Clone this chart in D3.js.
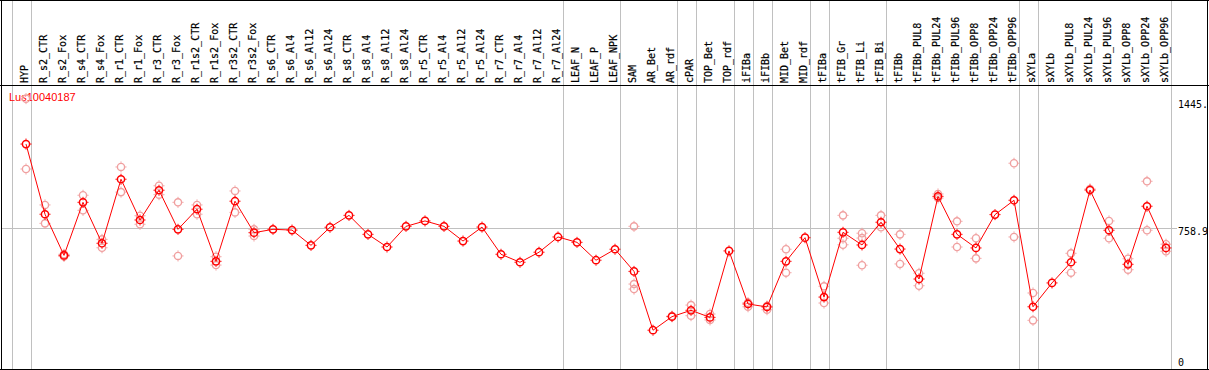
<!DOCTYPE html>
<html>
<head>
<meta charset="utf-8">
<script src="https://cdn.jsdelivr.net/npm/d3@7"></script>
<style>
  html, body { margin: 0; padding: 0; background: #fff; }
  svg { display: block; }
</style>
</head>
<body>
<script>
const title = "Lus10040187";
const categories = ["HYP","R_s2_CTR","R_s2_Fox","R_s4_CTR","R_s4_Fox","R_r1_CTR","R_r1_Fox","R_r3_CTR","R_r3_Fox","R_r1s2_CTR","R_r1s2_Fox","R_r3s2_CTR","R_r3s2_Fox","R_s6_CTR","R_s6_Al4","R_s6_Al12","R_s6_Al24","R_s8_CTR","R_s8_Al4","R_s8_Al12","R_s8_Al24","R_r5_CTR","R_r5_Al4","R_r5_Al12","R_r5_Al24","R_r7_CTR","R_r7_Al4","R_r7_Al12","R_r7_Al24","LEAF_N","LEAF_P","LEAF_NPK","SAM","AR_Bet","AR_rdf","cPAR","TOP_Bet","TOP_rdf","iFIBa","iFIBb","MID_Bet","MID_rdf","tFIBa","tFIB_Gr","tFIB_Li","tFIB_Bi","tFIBb","tFIBb_PUL8","tFIBb_PUL24","tFIBb_PUL96","tFIBb_OPP8","tFIBb_OPP24","tFIBb_OPP96","sXYLa","sXYLb","sXYLb_PUL8","sXYLb_PUL24","sXYLb_PUL96","sXYLb_OPP8","sXYLb_OPP24","sXYLb_OPP96"];
const means = [1211,834,613,898,678,1022,803,963,753,861,581,904,735,753,749,667,764,828,726,658,769,798,769,690,765,619,576,630,712,683,587,646,527,211,284,318,280,637,352,336,581,708,389,737,669,791,647,486,930,726,653,832,909,337,465,576,964,748,565,877,653];
const rep1 = [1077,884,619,936,654,1088,826,987,898,884,606,959,753,null,null,null,null,null,null,null,null,null,null,null,null,null,null,null,null,null,null,null,769,null,287,346,298,null,359,321,646,null,447,828,732,828,726,517,943,796,705,null,1108,411,null,624,970,798,595,1011,673];
const rep2 = [1455,785,607,855,699,953,780,939,610,834,561,844,717,null,null,null,null,null,null,null,null,null,null,null,null,null,null,null,null,null,null,null,459,null,null,289,266,null,337,341,520,null,357,670,560,764,567,450,921,658,597,null,712,264,null,520,null,705,536,748,635];
const rep3 = [null,null,null,null,null,null,null,null,null,null,null,null,null,null,null,null,null,null,null,null,null,null,null,null,null,null,null,null,null,null,null,null,432,null,null,null,null,null,null,null,null,null,null,705,706,null,null,null,null,null,null,null,null,null,null,null,null,null,null,null,null];
// categories that begin a new group (a separator line is drawn before each)
const groupStarts = ["HYP","R_s2_CTR","LEAF_N","SAM","cPAR","TOP_Bet","iFIBa","iFIBb","MID_Bet","tFIBa","tFIB_Gr","tFIBb","sXYLa","sXYLb"];
const yTicks = [0, 758.9, 1445];
const yTickLabels = ["0", "758.9", "1445."];
const yMax = 1445;

const W = 1209, H = 370;
const svg = d3.select("body").append("svg").attr("width", W).attr("height", H);

const x = d3.scalePoint().domain(categories).range([26, 26 + 19 * (categories.length - 1)]);
const y = d3.scaleLinear().domain([0, yMax]).range([369.5, 100.5]);

const grey = "#c0c0c0";
const mono = "'DejaVu Sans Mono', monospace";

// horizontal grid at middle tick
svg.append("line")
  .attr("x1", 2).attr("x2", 1177)
  .attr("y1", Math.round(y(yTicks[1])) + 0.5).attr("y2", Math.round(y(yTicks[1])) + 0.5)
  .attr("stroke", grey).attr("stroke-width", 1);

// group separators
const sepX = groupStarts.map(c => x(c) - 14.5);
sepX.push(x(categories[categories.length - 1]) + 4.5);
svg.selectAll("line.sep").data(sepX).enter().append("line")
  .attr("class", "sep")
  .attr("x1", d => Math.round(d) + 0.5).attr("x2", d => Math.round(d) + 0.5)
  .attr("y1", 0).attr("y2", H)
  .attr("stroke", grey).attr("stroke-width", 1);

// frame
svg.append("line").attr("x1", 0).attr("x2", W).attr("y1", 0.5).attr("y2", 0.5).attr("stroke", "#000");
svg.append("line").attr("x1", 0).attr("x2", W).attr("y1", 85.5).attr("y2", 85.5).attr("stroke", "#000");
svg.append("line").attr("x1", 0).attr("x2", W).attr("y1", 369.5).attr("y2", 369.5).attr("stroke", "#000");
svg.append("line").attr("x1", 1.5).attr("x2", 1.5).attr("y1", 0).attr("y2", H).attr("stroke", "#000");
svg.append("line").attr("x1", 1207.5).attr("x2", 1207.5).attr("y1", 0).attr("y2", H).attr("stroke", "#000");

// header labels
svg.selectAll("text.cat").data(categories).enter().append("text")
  .attr("class", "cat")
  .attr("transform", d => `translate(${x(d) + 1.6},83) rotate(-90)`)
  .attr("text-anchor", "start")
  .attr("font-family", mono).attr("font-size", 10).attr("fill", "#000")
  .attr("stroke", "#000").attr("stroke-width", 0.2)
  .text(d => d);

// right axis labels
svg.selectAll("text.yt").data(yTicks).enter().append("text")
  .attr("class", "yt")
  .attr("x", 1178)
  .attr("y", (d, i) => i === 0 ? y(d) - 4 : y(d) + 7)
  .attr("font-family", mono).attr("font-size", 10).attr("fill", "#000")
  .text((d, i) => yTickLabels[i]);

// title
svg.append("text").attr("x", 9).attr("y", 101)
  .attr("font-family", "'Liberation Sans', Arial, sans-serif").attr("font-size", 11)
  .attr("fill", "#ff0000").text(title);

function marker(g, color, sw) {
  g.append("circle").attr("r", 3.6).attr("fill", "none").attr("stroke", color).attr("stroke-width", sw);
  g.append("path").attr("d", "M0,-5.5V-4.2M0,4.2V5.5M-5.5,0H-4.2M4.2,0H5.5")
    .attr("stroke", color).attr("stroke-width", 1).attr("fill", "none");
}

// replicates
const reps = [];
[rep1, rep2, rep3].forEach(arr => arr.forEach((v, i) => { if (v != null) reps.push({c: categories[i], v}); }));
svg.selectAll("g.rep").data(reps).enter().append("g")
  .attr("class", "rep")
  .attr("transform", d => `translate(${x(d.c)},${y(d.v)})`)
  .each(function() { marker(d3.select(this), "#f0a0a0", 1.4); });

// mean line
const line = d3.line().x((d, i) => x(categories[i])).y(d => y(d));
svg.append("path").datum(means).attr("d", line)
  .attr("fill", "none").attr("stroke", "#ff0000").attr("stroke-width", 1);

// mean markers
svg.selectAll("g.mean").data(means).enter().append("g")
  .attr("class", "mean")
  .attr("transform", (d, i) => `translate(${x(categories[i])},${y(d)})`)
  .each(function() { marker(d3.select(this), "#ff0000", 1.5); });
</script>
</body>
</html>
